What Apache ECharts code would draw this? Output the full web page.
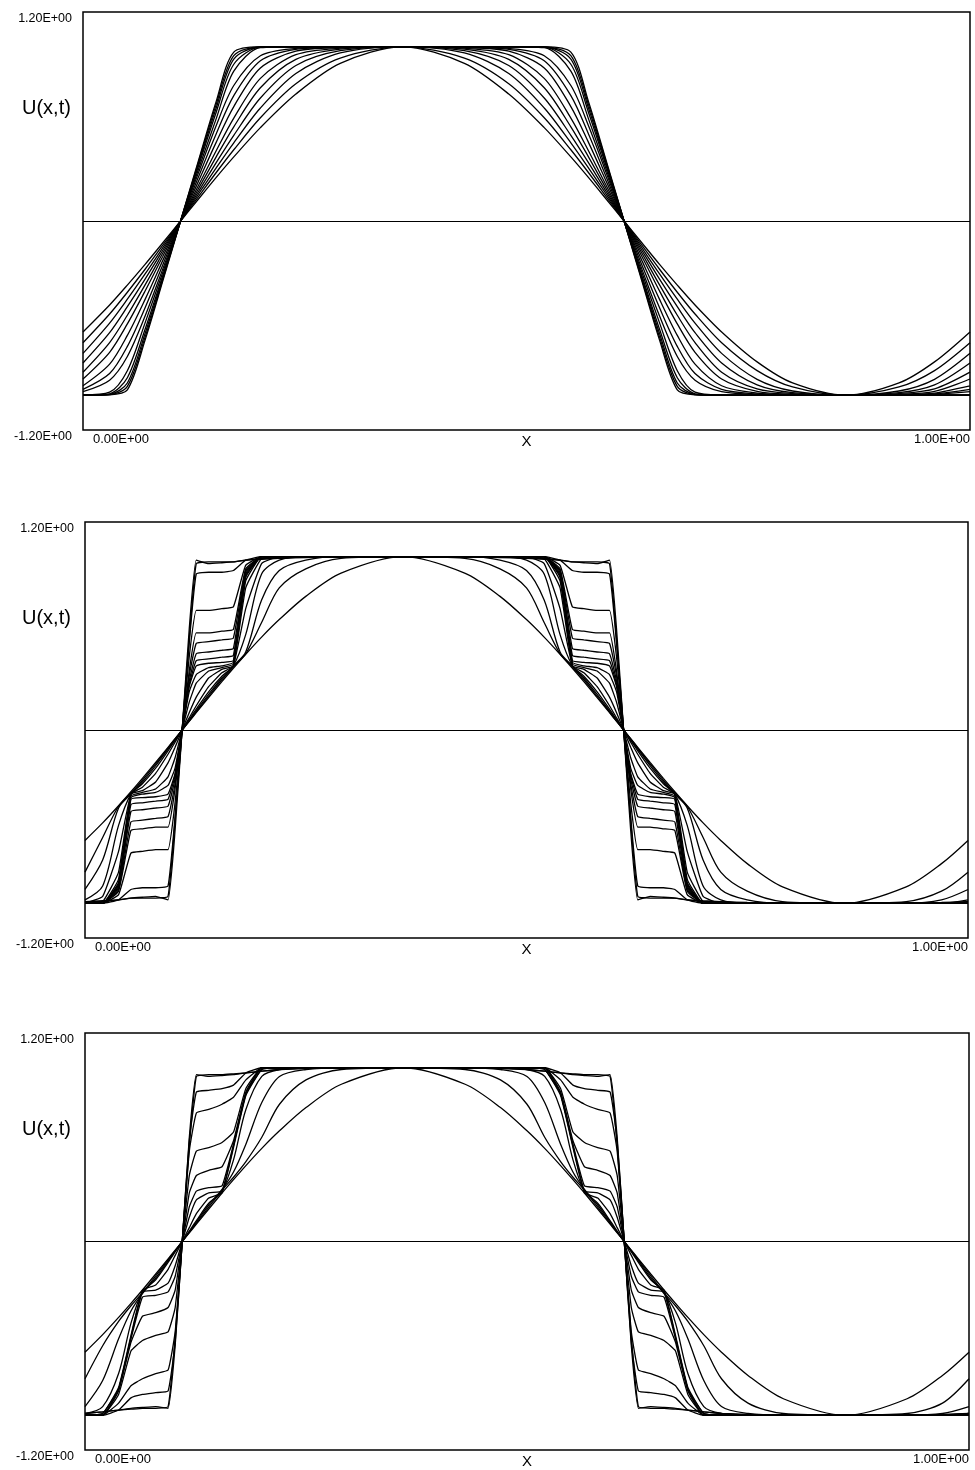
<!DOCTYPE html>
<html>
<head>
<meta charset="utf-8">
<title>U(x,t)</title>
<script src="https://cdn.jsdelivr.net/npm/echarts@6/dist/echarts.min.js"></script>
<style>
  html, body { margin: 0; padding: 0; background: #fff; }
  #chart { width: 975px; height: 1470px; }
</style>
</head>
<body>
<div id="chart"></div>
<script>
// ---------- values ----------
const xTickLabels = ['0.00E+00', '1.00E+00'];
const yTickLabels = ['-1.20E+00', '1.20E+00'];
const xName = 'X';
const yName = 'U(x,t)';

// upper panel: sample positions and profiles (initial sine first, then later times)
const xTop = [0, 0.03, 0.05, 0.07, 0.09, 0.11, 0.13, 0.15, 0.17, 0.2, 0.24, 0.29, 0.36, 0.43, 0.48, 0.52,
  0.55, 0.57, 0.59, 0.61, 0.63, 0.65, 0.67, 0.69, 0.72, 0.76, 0.8, 0.86, 0.92, 0.96, 1];

const topCurves = [
  [-0.637,-0.482,-0.368,-0.249,-0.125,0,0.125,0.249,0.368,0.536,0.729,0.905,1,0.905,0.729,0.536,0.368,0.249,0.125,0,-0.125,-0.249,-0.368,-0.482,-0.637,-0.809,-0.93,-1,-0.93,-0.809,-0.637],
  [-0.699,-0.534,-0.409,-0.277,-0.139,0,0.139,0.277,0.409,0.593,0.788,0.935,1,0.935,0.788,0.593,0.409,0.277,0.139,0,-0.139,-0.277,-0.409,-0.534,-0.699,-0.859,-0.953,-1,-0.953,-0.859,-0.699],
  [-0.76,-0.586,-0.449,-0.304,-0.153,0,0.153,0.304,0.449,0.649,0.847,0.965,1,0.965,0.847,0.649,0.449,0.304,0.153,0,-0.153,-0.304,-0.449,-0.586,-0.76,-0.909,-0.976,-1,-0.976,-0.909,-0.76],
  [-0.815,-0.641,-0.492,-0.334,-0.168,0,0.168,0.334,0.492,0.706,0.893,0.978,1,0.978,0.893,0.706,0.492,0.334,0.168,0,-0.168,-0.334,-0.492,-0.641,-0.815,-0.941,-0.986,-1,-0.986,-0.941,-0.815],
  [-0.868,-0.698,-0.541,-0.367,-0.184,0,0.184,0.367,0.541,0.765,0.928,0.987,1,0.987,0.928,0.765,0.541,0.367,0.184,0,-0.184,-0.367,-0.541,-0.698,-0.868,-0.964,-0.991,-1,-0.991,-0.964,-0.868],
  [-0.907,-0.754,-0.591,-0.402,-0.202,0,0.202,0.402,0.591,0.819,0.955,0.992,1,0.992,0.955,0.819,0.591,0.402,0.202,0,-0.202,-0.402,-0.591,-0.754,-0.907,-0.978,-0.995,-1,-0.995,-0.978,-0.907],
  [-0.946,-0.822,-0.657,-0.45,-0.226,0,0.226,0.45,0.657,0.879,0.975,0.996,1,0.996,0.975,0.879,0.657,0.45,0.226,0,-0.226,-0.45,-0.657,-0.822,-0.946,-0.988,-0.998,-1,-0.998,-0.988,-0.946],
  [-0.967,-0.876,-0.72,-0.498,-0.251,0,0.251,0.498,0.72,0.92,0.986,0.998,1,0.998,0.986,0.92,0.72,0.498,0.251,0,-0.251,-0.498,-0.72,-0.876,-0.967,-0.993,-0.998,-1,-0.998,-0.993,-0.967],
  [-0.98,-0.914,-0.778,-0.546,-0.275,0,0.275,0.546,0.778,0.949,0.991,0.999,1,0.999,0.991,0.949,0.778,0.546,0.275,0,-0.275,-0.546,-0.778,-0.914,-0.98,-0.996,-0.999,-1,-0.999,-0.996,-0.98],
  [-0.999,-0.983,-0.86,-0.585,-0.294,0,0.294,0.585,0.86,0.995,1,1,1,1,1,0.995,0.86,0.585,0.294,0,-0.294,-0.585,-0.86,-0.983,-0.999,-1,-1,-1,-1,-1,-0.999],
  [-1,-0.992,-0.9,-0.622,-0.313,0,0.313,0.622,0.9,0.998,1,1,1,1,1,0.998,0.9,0.622,0.313,0,-0.313,-0.622,-0.9,-0.992,-1,-1,-1,-1,-1,-1,-1],
  [-1,-0.995,-0.93,-0.646,-0.325,0,0.325,0.646,0.93,0.999,1,1,1,1,1,0.999,0.93,0.646,0.325,0,-0.325,-0.646,-0.93,-0.995,-1,-1,-1,-1,-1,-1,-1],
  [-1,-0.997,-0.95,-0.667,-0.335,0,0.335,0.667,0.95,0.999,1,1,1,1,1,0.999,0.95,0.667,0.335,0,-0.335,-0.667,-0.95,-0.997,-1,-1,-1,-1,-1,-1,-1],
  [-1,-0.998,-0.97,-0.684,-0.344,0,0.344,0.684,0.97,1,1,1,1,1,1,1,0.97,0.684,0.344,0,-0.344,-0.684,-0.97,-0.998,-1,-1,-1,-1,-1,-1,-1]
];

// middle and lower panels share these sample positions (denser around the two fronts)
const xFine = [0, 0.02, 0.038, 0.052, 0.065, 0.08, 0.094, 0.102, 0.11, 0.118, 0.126, 0.14, 0.155, 0.168, 0.182,
  0.2, 0.22, 0.25, 0.29, 0.36, 0.43, 0.47, 0.5, 0.52, 0.538, 0.552, 0.565, 0.58, 0.594, 0.602, 0.61, 0.618,
  0.626, 0.64, 0.655, 0.668, 0.682, 0.7, 0.72, 0.75, 0.79, 0.86, 0.93, 0.97, 1];

const initialProfile = [-0.637,-0.536,-0.437,-0.356,-0.279,-0.187,-0.1,-0.05,0,0.05,0.1,0.187,0.279,0.356,0.437,0.536,0.637,0.771,0.905,1,0.905,0.771,0.637,0.536,0.437,0.356,0.279,0.187,0.1,0.05,0,-0.05,-0.1,-0.187,-0.279,-0.356,-0.437,-0.536,-0.637,-0.771,-0.905,-1,-0.905,-0.771,-0.637];

const midCurves = [
  initialProfile,
  [-0.82,-0.62,-0.44,-0.365,-0.29,-0.195,-0.104,-0.052,0,0.052,0.104,0.195,0.29,0.365,0.44,0.62,0.82,0.93,0.99,1,0.99,0.93,0.82,0.62,0.44,0.365,0.29,0.195,0.104,0.052,0,-0.052,-0.104,-0.195,-0.29,-0.365,-0.44,-0.62,-0.82,-0.93,-0.99,-1,-0.99,-0.93,-0.82],
  [-0.92,-0.75,-0.45,-0.37,-0.3,-0.205,-0.11,-0.055,0,0.055,0.11,0.205,0.3,0.37,0.45,0.75,0.92,0.98,1,1,1,0.98,0.92,0.75,0.45,0.37,0.3,0.205,0.11,0.055,0,-0.055,-0.11,-0.205,-0.3,-0.37,-0.45,-0.75,-0.92,-0.98,-1,-1,-1,-0.98,-0.92],
  [-0.98,-0.9,-0.55,-0.37,-0.31,-0.22,-0.12,-0.06,0,0.06,0.12,0.22,0.31,0.37,0.55,0.9,0.98,1,1,1,1,1,0.98,0.9,0.55,0.37,0.31,0.22,0.12,0.06,0,-0.06,-0.12,-0.22,-0.31,-0.37,-0.55,-0.9,-0.98,-1,-1,-1,-1,-1,-0.98],
  [-1,-0.96,-0.7,-0.37,-0.33,-0.25,-0.14,-0.07,0,0.07,0.14,0.25,0.33,0.37,0.7,0.96,1,1,1,1,1,1,1,0.96,0.7,0.37,0.33,0.25,0.14,0.07,0,-0.07,-0.14,-0.25,-0.33,-0.37,-0.7,-0.96,-1,-1,-1,-1,-1,-1,-1],
  [-1,-0.99,-0.82,-0.37,-0.35,-0.3,-0.19,-0.1,0,0.1,0.19,0.3,0.35,0.37,0.82,0.99,1,1,1,1,1,1,1,0.99,0.82,0.37,0.35,0.3,0.19,0.1,0,-0.1,-0.19,-0.3,-0.35,-0.37,-0.82,-0.99,-1,-1,-1,-1,-1,-1,-1],
  [-1,-1,-0.86,-0.38,-0.36,-0.34,-0.27,-0.16,0,0.16,0.27,0.34,0.36,0.38,0.86,1,1,1,1,1,1,1,1,1,0.86,0.38,0.36,0.34,0.27,0.16,0,-0.16,-0.27,-0.34,-0.36,-0.38,-0.86,-1,-1,-1,-1,-1,-1,-1,-1],
  [-1,-1,-0.88,-0.39,-0.37,-0.36,-0.32,-0.22,0,0.22,0.32,0.36,0.37,0.39,0.88,1,1,1,1,1,1,1,1,1,0.88,0.39,0.37,0.36,0.32,0.22,0,-0.22,-0.32,-0.36,-0.37,-0.39,-0.88,-1,-1,-1,-1,-1,-1,-1,-1],
  [-1,-1,-0.89,-0.4,-0.39,-0.385,-0.37,-0.25,0,0.25,0.37,0.385,0.39,0.4,0.89,1,1,1,1,1,1,1,1,1,0.89,0.4,0.39,0.385,0.37,0.25,0,-0.25,-0.37,-0.385,-0.39,-0.4,-0.89,-1,-1,-1,-1,-1,-1,-1,-1],
  [-1,-1,-0.9,-0.43,-0.42,-0.41,-0.4,-0.26,0,0.26,0.4,0.41,0.42,0.43,0.9,1,1,1,1,1,1,1,1,1,0.9,0.43,0.42,0.41,0.4,0.26,0,-0.26,-0.4,-0.41,-0.42,-0.43,-0.9,-1,-1,-1,-1,-1,-1,-1,-1],
  [-1,-1,-0.91,-0.47,-0.46,-0.45,-0.44,-0.28,0,0.28,0.44,0.45,0.46,0.47,0.91,1,1,1,1,1,1,1,1,1,0.91,0.47,0.46,0.45,0.44,0.28,0,-0.28,-0.44,-0.45,-0.46,-0.47,-0.91,-1,-1,-1,-1,-1,-1,-1,-1],
  [-1,-1,-0.92,-0.53,-0.52,-0.51,-0.5,-0.31,0,0.31,0.5,0.51,0.52,0.53,0.92,1,1,1,1,1,1,1,1,1,0.92,0.53,0.52,0.51,0.5,0.31,0,-0.31,-0.5,-0.51,-0.52,-0.53,-0.92,-1,-1,-1,-1,-1,-1,-1,-1],
  [-1,-1,-0.93,-0.58,-0.57,-0.56,-0.56,-0.34,0,0.34,0.56,0.56,0.57,0.58,0.93,1,1,1,1,1,1,1,1,1,0.93,0.58,0.57,0.56,0.56,0.34,0,-0.34,-0.56,-0.56,-0.57,-0.58,-0.93,-1,-1,-1,-1,-1,-1,-1,-1],
  [-1,-1,-0.95,-0.71,-0.7,-0.69,-0.69,-0.42,0,0.42,0.69,0.69,0.7,0.71,0.95,1,1,1,1,1,1,1,1,1,0.95,0.71,0.7,0.69,0.69,0.42,0,-0.42,-0.69,-0.69,-0.7,-0.71,-0.95,-1,-1,-1,-1,-1,-1,-1,-1],
  [-1,-1,-0.98,-0.92,-0.91,-0.91,-0.9,-0.5,0,0.5,0.9,0.91,0.91,0.92,0.98,1,1,1,1,1,1,1,1,1,0.98,0.92,0.91,0.91,0.9,0.5,0,-0.5,-0.9,-0.91,-0.91,-0.92,-0.98,-1,-1,-1,-1,-1,-1,-1,-1],
  [-0.99,-0.99,-0.98,-0.97,-0.97,-0.97,-0.96,-0.52,0,0.52,0.96,0.97,0.97,0.97,0.98,0.99,0.99,1,1,1,1,1,0.99,0.99,0.98,0.97,0.97,0.97,0.96,0.52,0,-0.52,-0.96,-0.97,-0.97,-0.97,-0.98,-0.99,-0.99,-1,-1,-1,-1,-1,-0.99],
  [-0.99,-0.985,-0.98,-0.97,-0.965,-0.96,-0.98,-0.58,0,0.58,0.98,0.96,0.965,0.97,0.98,0.985,0.99,0.995,1,1,1,0.995,0.99,0.985,0.98,0.97,0.965,0.96,0.98,0.58,0,-0.58,-0.98,-0.96,-0.965,-0.97,-0.98,-0.985,-0.99,-0.995,-1,-1,-1,-0.995,-0.99]
];

const lowCurves = [
  initialProfile,
  [-0.79,-0.6,-0.46,-0.37,-0.295,-0.198,-0.106,-0.053,0,0.053,0.106,0.198,0.295,0.37,0.46,0.6,0.79,0.93,0.99,1,0.99,0.93,0.79,0.6,0.46,0.37,0.295,0.198,0.106,0.053,0,-0.053,-0.106,-0.198,-0.295,-0.37,-0.46,-0.6,-0.79,-0.93,-0.99,-1,-0.99,-0.93,-0.79],
  [-0.95,-0.8,-0.56,-0.4,-0.3,-0.21,-0.112,-0.056,0,0.056,0.112,0.21,0.3,0.4,0.56,0.8,0.95,0.99,1,1,1,0.99,0.95,0.8,0.56,0.4,0.3,0.21,0.112,0.056,0,-0.056,-0.112,-0.21,-0.3,-0.4,-0.56,-0.8,-0.95,-0.99,-1,-1,-1,-0.99,-0.95],
  [-0.99,-0.95,-0.76,-0.47,-0.29,-0.22,-0.12,-0.06,0,0.06,0.12,0.22,0.29,0.47,0.76,0.95,0.99,1,1,1,1,1,0.99,0.95,0.76,0.47,0.29,0.22,0.12,0.06,0,-0.06,-0.12,-0.22,-0.29,-0.47,-0.76,-0.95,-0.99,-1,-1,-1,-1,-1,-0.99],
  [-1,-0.99,-0.84,-0.54,-0.28,-0.25,-0.16,-0.08,0,0.08,0.16,0.25,0.28,0.54,0.84,0.99,1,1,1,1,1,1,1,0.99,0.84,0.54,0.28,0.25,0.16,0.08,0,-0.08,-0.16,-0.25,-0.28,-0.54,-0.84,-0.99,-1,-1,-1,-1,-1,-1,-1],
  [-1,-0.99,-0.85,-0.55,-0.29,-0.28,-0.24,-0.14,0,0.14,0.24,0.28,0.29,0.55,0.85,0.99,1,1,1,1,1,1,1,0.99,0.85,0.55,0.29,0.28,0.24,0.14,0,-0.14,-0.24,-0.28,-0.29,-0.55,-0.85,-0.99,-1,-1,-1,-1,-1,-1,-1],
  [-1,-1,-0.85,-0.56,-0.32,-0.31,-0.29,-0.2,0,0.2,0.29,0.31,0.32,0.56,0.85,1,1,1,1,1,1,1,1,1,0.85,0.56,0.32,0.31,0.29,0.2,0,-0.2,-0.29,-0.31,-0.32,-0.56,-0.85,-1,-1,-1,-1,-1,-1,-1,-1],
  [-1,-1,-0.86,-0.58,-0.43,-0.41,-0.38,-0.28,0,0.28,0.38,0.41,0.43,0.58,0.86,1,1,1,1,1,1,1,1,1,0.86,0.58,0.43,0.41,0.38,0.28,0,-0.28,-0.38,-0.41,-0.43,-0.58,-0.86,-1,-1,-1,-1,-1,-1,-1,-1],
  [-1,-1,-0.88,-0.63,-0.57,-0.54,-0.52,-0.38,0,0.38,0.52,0.54,0.57,0.63,0.88,1,1,1,1,1,1,1,1,1,0.88,0.63,0.57,0.54,0.52,0.38,0,-0.38,-0.52,-0.54,-0.57,-0.63,-0.88,-1,-1,-1,-1,-1,-1,-1,-1],
  [-1,-1,-0.93,-0.83,-0.79,-0.76,-0.74,-0.52,0,0.52,0.74,0.76,0.79,0.83,0.93,1,1,1,1,1,1,1,1,1,0.93,0.83,0.79,0.76,0.74,0.52,0,-0.52,-0.74,-0.76,-0.79,-0.83,-0.93,-1,-1,-1,-1,-1,-1,-1,-1],
  [-1,-1,-0.97,-0.9,-0.88,-0.87,-0.86,-0.58,0,0.58,0.86,0.87,0.88,0.9,0.97,1,1,1,1,1,1,1,1,1,0.97,0.9,0.88,0.87,0.86,0.58,0,-0.58,-0.86,-0.87,-0.88,-0.9,-0.97,-1,-1,-1,-1,-1,-1,-1,-1],
  [-0.99,-0.98,-0.97,-0.965,-0.96,-0.96,-0.95,-0.55,0,0.55,0.95,0.96,0.96,0.965,0.97,0.98,0.99,1,1,1,1,1,0.99,0.98,0.97,0.965,0.96,0.96,0.95,0.55,0,-0.55,-0.95,-0.96,-0.96,-0.965,-0.97,-0.98,-0.99,-1,-1,-1,-1,-1,-0.99],
  [-0.99,-0.98,-0.97,-0.96,-0.955,-0.95,-0.96,-0.6,0,0.6,0.96,0.95,0.955,0.96,0.97,0.98,0.99,0.995,1,1,1,0.995,0.99,0.98,0.97,0.96,0.955,0.95,0.96,0.6,0,-0.6,-0.96,-0.95,-0.955,-0.96,-0.97,-0.98,-0.99,-0.995,-1,-1,-1,-0.995,-0.99]
];

// ---------- layout ----------
const panels = [
  { xs: xTop,  curves: topCurves, box: { left: 83, top: 12,   width: 887, height: 418 }, softCount: topCurves.length },
  { xs: xFine, curves: midCurves, box: { left: 85, top: 522,  width: 883, height: 416 }, softCount: 4 },
  { xs: xFine, curves: lowCurves, box: { left: 85, top: 1033, width: 884, height: 417 }, softCount: 4 }
];

const baseFont = { color: '#000', fontFamily: 'Liberation Sans' };

const grids = [], xAxes = [], yAxes = [], series = [], graphics = [];

panels.forEach((p, k) => {
  grids.push(Object.assign({ show: true, borderColor: '#000', borderWidth: 1.5, backgroundColor: 'transparent' }, p.box));

  xAxes.push({
    gridIndex: k, type: 'value', min: 0, max: 1, interval: 1,
    axisLine: { show: false }, axisTick: { show: false }, splitLine: { show: false },
    axisLabel: Object.assign({
      margin: 3, padding: [0, 0, 0, 10], fontSize: 13,
      alignMinLabel: 'left', alignMaxLabel: 'right',
      formatter: v => (v > 0.5 ? xTickLabels[1] : xTickLabels[0])
    }, baseFont),
    name: xName, nameLocation: 'middle', nameGap: 4, nameMoveOverlap: false,
    nameTextStyle: Object.assign({ fontSize: 15, verticalAlign: 'top' }, baseFont)
  });

  yAxes.push({
    gridIndex: k, type: 'value', min: -1.2, max: 1.2, interval: 2.4,
    axisLine: { show: false }, axisTick: { show: false }, splitLine: { show: false },
    axisLabel: Object.assign({
      margin: 11, verticalAlign: 'top', fontSize: 12.5,
      formatter: v => (v > 0 ? yTickLabels[1] : yTickLabels[0])
    }, baseFont)
  });

  p.curves.forEach((c, j) => {
    const s = {
      type: 'line', xAxisIndex: k, yAxisIndex: k,
      data: p.xs.map((x, i) => [x, c[i]]),
      smooth: j < p.softCount ? 0.3 : 0.12,
      symbol: 'none', silent: true,
      lineStyle: { color: '#000', width: 1.3 }
    };
    if (j === 0) {
      s.markLine = {
        silent: true, symbol: 'none', label: { show: false },
        lineStyle: { color: '#000', width: 1.2, type: 'solid' },
        data: [{ yAxis: 0 }]
      };
    }
    series.push(s);
  });

  graphics.push({
    type: 'text', left: 22, top: p.box.top + 86,
    style: { text: yName, fill: '#000', font: '20px "Liberation Sans"' }
  });
});

const chart = echarts.init(document.getElementById('chart'), null, { renderer: 'canvas' });
chart.setOption({
  animation: false,
  backgroundColor: '#fff',
  grid: grids,
  xAxis: xAxes,
  yAxis: yAxes,
  series: series,
  graphic: graphics
});
</script>
</body>
</html>
